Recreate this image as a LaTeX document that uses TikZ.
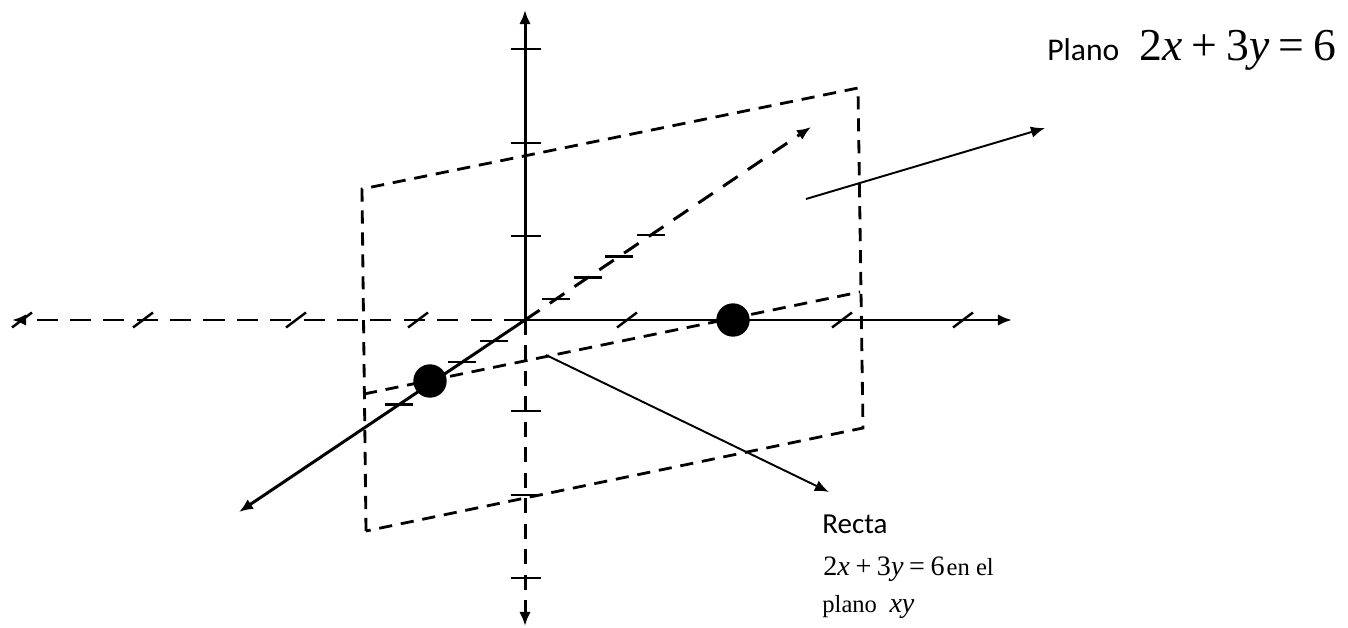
\documentclass[tikz,border=0pt]{standalone}
\usepackage{fontspec}
\setmainfont{Liberation Serif}
\newfontfamily\calibri{Carlito}
\usetikzlibrary{arrows.meta,calc}
\newcommand{\planeeq}{2\textit{x}\hspace{0.2em}+\hspace{0.2em}3\textit{y}\hspace{0.2em}=\hspace{0.2em}6}

\begin{document}
\begin{tikzpicture}[x=0.02cm,y=-0.02cm,>={Latex[length=8pt,width=6.5pt]}]
  \tikzstyle{axisline}=[line width=1.7pt]
  \tikzstyle{hiddenx}=[line width=1.7pt,dash pattern=on 12pt off 7pt]
  \tikzstyle{hiddenz}=[line width=1.7pt,dash pattern=on 8.5pt off 6pt]
  \tikzstyle{hiddeny}=[line width=1.7pt,dash pattern=on 10pt off 7pt]
  \tikzstyle{planeedge}=[line width=1.6pt,dash pattern=on 7.5pt off 5pt]
  \tikzstyle{tickmark}=[line width=1.4pt]
  \tikzstyle{callout}=[line width=1.1pt,->]
  \tikzstyle{pointdot}=[fill=black,circle,inner sep=0pt,minimum size=19]
  \useasboundingbox (0,0) rectangle (1348,628);
  % origin and axis ends
  \coordinate (O) at (525,320);
  \coordinate (xL) at (12,320);
  \coordinate (xR) at (1012,320);
  \coordinate (zT) at (525,10);
  \coordinate (zB) at (525,626);
  \coordinate (yF) at (239,512);
  \coordinate (yB) at (811,127);
  % plane 2x+3y=6
  \coordinate (p1) at (362,189);
  \coordinate (p2) at (858,88);
  \coordinate (p3) at (863,428);
  \coordinate (p4) at (366,531);
  \coordinate (r1) at (364,394);
  \coordinate (r2) at (860,292);
  \draw[planeedge] (p4) -- (p1) -- (p2) -- (p3) -- cycle;
  \draw[planeedge] (r1) -- (r2);
  % axes
  \draw[axisline,->] (O) -- (xR);
  \draw[hiddenx,->] (O) -- (xL);
  \draw[axisline,->] (O) -- (zT);
  \draw[hiddenz,->] (O) -- (zB);
  \draw[axisline,->] (O) -- (yF);
  \draw[hiddeny,->] (O) -- (yB);
  % ticks
  \foreach \x in {22,143,296,418,627,733,842,963}
    \draw[tickmark] (\x-10,327.5) -- (\x+10,312.5);
  \foreach \z in {49,143,236,411,495,578}
    \draw[tickmark] (511,\z) -- (541,\z);
  \foreach \t in {0.11,0.22,0.33,0.44}
  {
    \draw[tickmark] ($(O)!\t!(yB)$) ++(-14,0) -- ++(28,0);
    \draw[tickmark] ($(O)!\t!(yF)$) ++(-14,0) -- ++(28,0);
  }
  % intercepts
  \node[pointdot] (ptA) at (430,381) {};
  \node[pointdot] (ptB) at (733,320) {};
  % labels
  \node[anchor=base west,inner sep=0pt] (planolbl) at (1047,61)
    {{\calibri\fontsize{18}{21}\selectfont Plano}\hspace{0.4cm}{\fontsize{26}{30}\selectfont\planeeq}};
  \node[anchor=base west,inner sep=0pt] (recta1) at (822,533) {\calibri\fontsize{16.5}{19}\selectfont Recta};
  \node[anchor=base west,inner sep=0pt] (recta2) at (823,575)
    {{\fontsize{16}{19}\selectfont\planeeq}\hspace{0.04cm}{\fontsize{14}{17}\selectfont en el}};
  \node[anchor=base west,inner sep=0pt] (recta3) at (822,612)
    {{\fontsize{14}{17}\selectfont plano}\hspace{0.25cm}{\fontsize{16}{19}\selectfont\textit{xy}}};
  % callouts
  \coordinate (planoFrom) at (806,199);
  \coordinate (planoTo) at (1045,128);
  \coordinate (rectaFrom) at (546,355);
  \coordinate (rectaTo) at (829,492);
  \draw[callout] (planoFrom) -- (planoTo);
  \draw[callout] (rectaFrom) -- (rectaTo);
\end{tikzpicture}
\end{document}
